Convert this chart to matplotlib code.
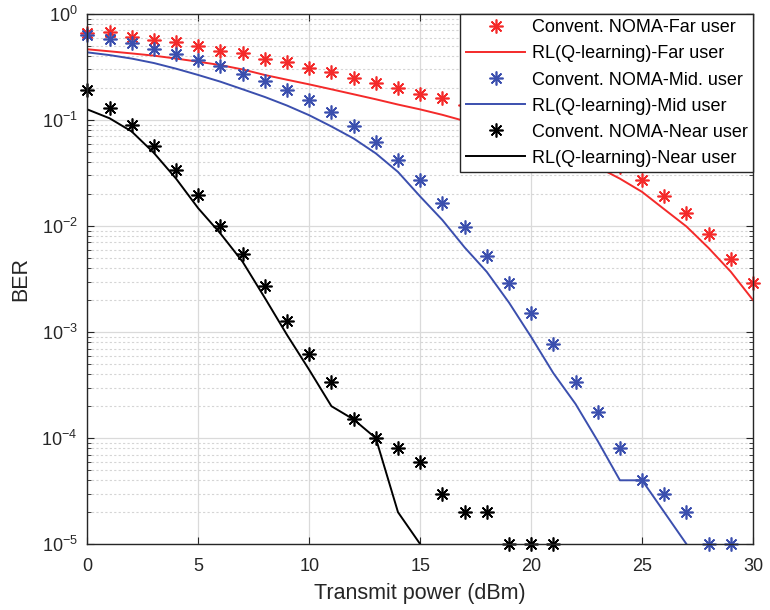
import matplotlib
matplotlib.use("Agg")
import matplotlib.pyplot as plt
from matplotlib.ticker import LogLocator, NullFormatter

plt.rcParams['font.family'] = ['Liberation Sans', 'DejaVu Sans']
plt.rcParams['mathtext.fontset'] = 'custom'
plt.rcParams['mathtext.rm'] = 'Liberation Sans'
plt.rcParams['mathtext.it'] = 'Liberation Sans:italic'

power = list(range(0, 31))

far_conv = [0.66, 0.67, 0.61, 0.57, 0.54, 0.50, 0.45, 0.43, 0.38, 0.35, 0.31,
            0.284, 0.247, 0.222, 0.20, 0.175, 0.16, 0.14, 0.12, 0.10, 0.085,
            0.07, 0.056, 0.045, 0.036, 0.027, 0.0193, 0.0132, 0.0084, 0.00485, 0.0029]
far_rl = [0.465, 0.445, 0.425, 0.405, 0.38, 0.355, 0.33, 0.30, 0.266, 0.24, 0.217,
          0.195, 0.175, 0.157, 0.14, 0.126, 0.112, 0.098, 0.086, 0.075, 0.064,
          0.054, 0.045, 0.036, 0.028, 0.021, 0.0144, 0.0099, 0.0062, 0.0037, 0.0020]

mid_conv_x = list(range(0, 30))
mid_conv = [0.63, 0.58, 0.53, 0.47, 0.42, 0.37, 0.32, 0.27, 0.233, 0.19, 0.154,
            0.118, 0.088, 0.062, 0.042, 0.027, 0.0165, 0.0099, 0.0052, 0.0029, 0.0015,
            0.00077, 0.00034, 0.000175, 8e-5, 4e-5, 3e-5, 2e-5, 1e-5, 1e-5]
mid_rl_x = list(range(0, 28))
mid_rl = [0.435, 0.41, 0.38, 0.345, 0.305, 0.266, 0.23, 0.195, 0.165, 0.137, 0.111,
          0.087, 0.067, 0.0485, 0.0324, 0.019, 0.0114, 0.0063, 0.0037, 0.0019, 0.0009,
          0.00041, 0.00021, 9.4e-5, 4e-5, 4e-5, 2e-5, 1e-5]

near_conv_x = list(range(0, 22))
near_conv = [0.19, 0.13, 0.09, 0.057, 0.034, 0.0196, 0.01, 0.0054, 0.0027, 0.00126,
             0.00062, 0.00034, 0.00015, 1e-4, 8e-5, 6e-5, 3e-5, 2e-5, 2e-5, 1e-5, 1e-5, 1e-5]
near_rl_x = list(range(0, 16))
near_rl = [0.126, 0.104, 0.078, 0.049, 0.028, 0.0147, 0.0085, 0.0046, 0.0021, 0.00094,
           0.00044, 0.0002, 0.00015, 1e-4, 2e-5, 1e-5]

RED = '#F42A2A'
BLUE = '#3B4FAE'
BLACK = '#000000'

fig = plt.figure(figsize=(7.7, 6.1), dpi=100)
ax = fig.add_axes([0.1134, 0.108, 0.8646, 0.869])

star = (8, 2, 0)
ms = 10
mew = 1.2
lw = 1.4

ax.plot(power, far_conv, linestyle='none', marker=star, markersize=ms, markeredgewidth=mew,
        color=RED, label='Convent. NOMA-Far user', clip_on=False)
ax.plot(power, far_rl, '-', color=RED, linewidth=lw, label='RL(Q-learning)-Far user')
ax.plot(mid_conv_x, mid_conv, linestyle='none', marker=star, markersize=ms, markeredgewidth=mew,
        color=BLUE, label='Convent. NOMA-Mid. user', clip_on=False)
ax.plot(mid_rl_x, mid_rl, '-', color=BLUE, linewidth=lw, label='RL(Q-learning)-Mid user')
ax.plot(near_conv_x, near_conv, linestyle='none', marker=star, markersize=ms, markeredgewidth=mew,
        color=BLACK, label='Convent. NOMA-Near user', clip_on=False)
ax.plot(near_rl_x, near_rl, '-', color=BLACK, linewidth=lw, label='RL(Q-learning)-Near user')

ax.set_yscale('log')
ax.set_xlim(0, 30)
ax.set_ylim(1e-5, 1)
ax.set_xticks([0, 5, 10, 15, 20, 25, 30])
ax.yaxis.set_major_locator(LogLocator(base=10, numticks=10))
ax.yaxis.set_minor_locator(LogLocator(base=10, subs=range(2, 10), numticks=100))
ax.yaxis.set_minor_formatter(NullFormatter())

ax.grid(True, which='major', color='#DADADA', linestyle='-', linewidth=0.9)
ax.grid(True, which='minor', axis='y', color='#D5D5D5', linestyle=(0, (2, 2)), linewidth=0.8)
ax.set_axisbelow(True)

ax.tick_params(which='both', direction='in', top=True, right=True, colors='#262626',
               labelsize=13)
ax.tick_params(which='major', length=5)
ax.tick_params(which='minor', length=3)
ax.tick_params(axis='x', pad=10)
ax.tick_params(axis='y', pad=7)
for s in ax.spines.values():
    s.set_color('#262626')
    s.set_linewidth(1.0)

ax.set_xlabel('Transmit power (dBm)', fontsize=15.5, color='#262626', labelpad=6)
ax.set_ylabel('BER', fontsize=15.5, color='#262626', labelpad=7)

leg = ax.legend(loc='upper right', bbox_to_anchor=(1.0, 1.0), borderaxespad=0,
                fontsize=13, frameon=True, fancybox=False, framealpha=1,
                edgecolor='#262626', handlelength=3.3, labelspacing=0.5,
                handletextpad=0.35, borderpad=0.3)
leg.get_frame().set_linewidth(1.0)

fig.savefig('out.png', dpi=100)
